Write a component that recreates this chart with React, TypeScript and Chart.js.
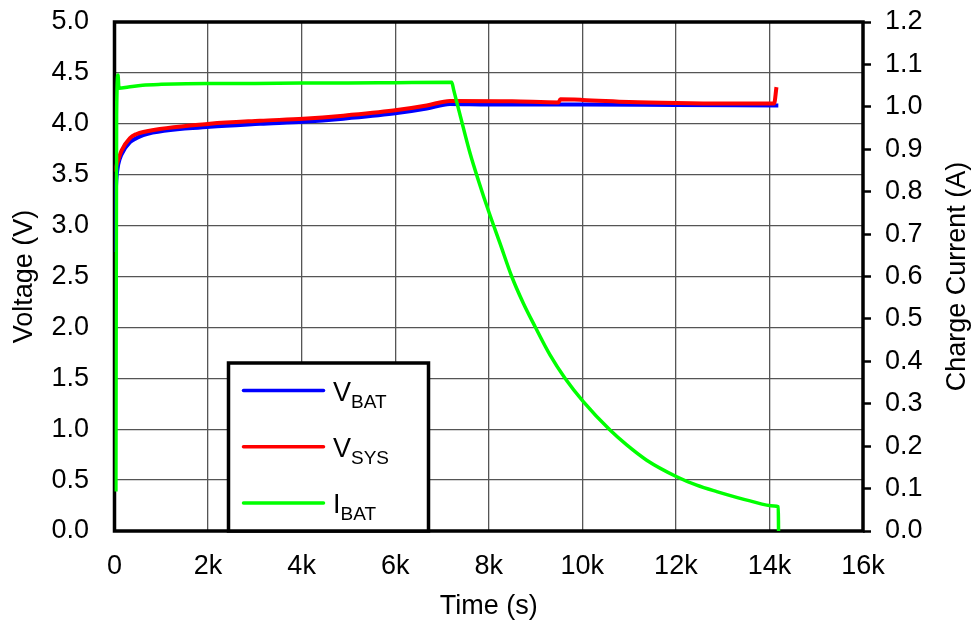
import React, { useEffect, useRef } from 'react';
import { Chart, registerables } from 'chart.js';

Chart.register(...registerables);

// ---- Data ----
const vbatTime = [0, 20, 40, 80, 150, 331, 474, 616, 2041, 3110, 4036, 4891, 5960, 6674, 7172, 8000, 10000, 12000, 14190];
const vbatVolts = [2.74, 3.25, 3.45, 3.6, 3.7, 3.82, 3.86, 3.89, 3.97, 4.0, 4.02, 4.05, 4.1, 4.15, 4.195, 4.19, 4.19, 4.185, 4.18];

const vsysTime = [0, 47, 154, 331, 474, 616, 2041, 3110, 4036, 4891, 5960, 6674, 7172, 8500, 9490, 9530, 10000, 11000, 12000, 13000, 14100, 14150];
const vsysVolts = [3.53, 3.6, 3.74, 3.86, 3.9, 3.92, 4.0, 4.03, 4.05, 4.08, 4.13, 4.18, 4.225, 4.222, 4.21, 4.24, 4.235, 4.215, 4.205, 4.2, 4.2, 4.36];

const ibatTime = [30, 45, 75, 95, 300, 600, 1000, 2000, 3000, 4000, 5000, 6000, 7208, 7250, 7400, 7599, 7777, 8012, 8241, 8491, 8739, 8989, 9309, 9630, 10021, 10592, 10949, 11376, 12018, 12445, 12873, 13585, 14100, 14189, 14195];
const ibatAmps = [0.093, 0.98, 1.075, 1.044, 1.047, 1.051, 1.053, 1.055, 1.055, 1.056, 1.056, 1.057, 1.058, 1.04, 0.975, 0.891, 0.827, 0.749, 0.678, 0.6, 0.537, 0.482, 0.415, 0.36, 0.305, 0.238, 0.203, 0.167, 0.128, 0.108, 0.093, 0.071, 0.059, 0.057, 0.0];

const xTickLabels = ['0', '2k', '4k', '6k', '8k', '10k', '12k', '14k', '16k'];
const voltTickLabels = ['0.0', '0.5', '1.0', '1.5', '2.0', '2.5', '3.0', '3.5', '4.0', '4.5', '5.0'];
const currentTickLabels = ['0.0', '0.1', '0.2', '0.3', '0.4', '0.5', '0.6', '0.7', '0.8', '0.9', '1.0', '1.1', '1.2'];

const legendMain = ['V', 'V', 'I'];
const legendSub = ['BAT', 'SYS', 'BAT'];
const legendColors = ['#0000ff', '#ff0000', '#00ff00'];

const xTitle = 'Time (s)';
const yTitle = 'Voltage (V)';
const y1Title = 'Charge Current (A)';

const FONT = "'Liberation Sans', Arial, sans-serif";
const FS = 27;

function zip(xs: number[], ys: number[]) {
  return xs.map((x, i) => ({ x, y: ys[i] }));
}

const framePlugin = {
  id: 'frame',
  beforeDatasetsDraw(chart: any) {
    const { ctx, chartArea: a } = chart;
    ctx.save();
    ctx.strokeStyle = '#000';
    ctx.lineWidth = 3.5;
    ctx.strokeRect(a.left, a.top, a.right - a.left, a.bottom - a.top);
    ctx.restore();
  },
  afterDraw(chart: any) {
    const { ctx, chartArea: a } = chart;
    ctx.save();
    ctx.font = `${FS}px ${FONT}`;
    ctx.fillStyle = '#000';
    ctx.textAlign = 'center';
    ctx.textBaseline = 'middle';
    ctx.translate(957.5, (a.top + a.bottom) / 2);
    ctx.rotate(-Math.PI / 2);
    ctx.fillText(y1Title, 0, 0);
    ctx.restore();

    ctx.save();
    const bl = a.left + 114;
    const br = a.left + 314;
    const bt = a.bottom - 168;
    const bb = a.bottom;
    ctx.fillStyle = '#fff';
    ctx.fillRect(bl, bt, br - bl, bb - bt);
    ctx.strokeStyle = '#000';
    ctx.lineWidth = 3.5;
    ctx.strokeRect(bl, bt, br - bl, bb - bt);
    for (let i = 0; i < legendMain.length; i++) {
      const ly = bt + 27.5 + i * 56.3;
      ctx.strokeStyle = legendColors[i];
      ctx.lineWidth = 3.5;
      ctx.lineCap = 'round';
      ctx.beginPath();
      ctx.moveTo(bl + 15, ly);
      ctx.lineTo(bl + 95, ly);
      ctx.stroke();
      ctx.fillStyle = '#000';
      ctx.textAlign = 'left';
      ctx.textBaseline = 'alphabetic';
      ctx.font = `${FS}px ${FONT}`;
      const tx = bl + 104.5;
      ctx.fillText(legendMain[i], tx, ly + 10);
      const w = ctx.measureText(legendMain[i]).width;
      ctx.font = `19px ${FONT}`;
      ctx.fillText(legendSub[i], tx + w, ly + 17.3);
    }
    ctx.restore();
  },
};

export default function App() {
  const ref = useRef<HTMLCanvasElement | null>(null);
  useEffect(() => {
    if (!ref.current) return;
    const gridColor = '#555555';
    const chart = new Chart(ref.current, {
      type: 'line',
      data: {
        datasets: [
          { label: 'IBAT', data: zip(ibatTime, ibatAmps), yAxisID: 'y1', borderColor: '#00ff00', backgroundColor: '#00ff00', borderWidth: 3.5, pointRadius: 0, cubicInterpolationMode: 'monotone' },
          { label: 'VSYS', data: zip(vsysTime, vsysVolts), yAxisID: 'y', borderColor: '#ff0000', backgroundColor: '#ff0000', borderWidth: 4, pointRadius: 0, cubicInterpolationMode: 'monotone' },
          { label: 'VBAT', data: zip(vbatTime, vbatVolts), yAxisID: 'y', borderColor: '#0000ff', backgroundColor: '#0000ff', borderWidth: 4, pointRadius: 0, cubicInterpolationMode: 'monotone' },
        ],
      },
      options: {
        animation: false,
        responsive: true,
        maintainAspectRatio: false,
        layout: { padding: { top: 22, left: 0, right: 0, bottom: 0 } },
        plugins: { legend: { display: false }, tooltip: { enabled: false } },
        scales: {
          x: {
            type: 'linear',
            min: 0,
            max: 16000,
            afterFit: (s: any) => { s.height = 91; s.paddingLeft = 0; s.paddingRight = 0; },
            ticks: {
              stepSize: 2000,
              color: '#000',
              padding: 19,
              maxRotation: 0,
              font: { family: FONT, size: FS },
              callback: (v: any) => xTickLabels[Math.round(Number(v) / 2000)],
            },
            grid: { color: gridColor, lineWidth: 1.3, drawTicks: false },
            border: { display: false },
            title: { display: true, text: xTitle, color: '#000', font: { family: FONT, size: FS }, padding: { top: 0, bottom: -1 } },
          },
          y: {
            position: 'left',
            min: 0,
            max: 5,
            afterFit: (s: any) => { s.width = 114.5; s.paddingTop = 0; s.paddingBottom = 0; },
            ticks: {
              stepSize: 0.5,
              color: '#000',
              padding: 25.5,
              font: { family: FONT, size: FS },
              callback: (v: any) => voltTickLabels[Math.round(Number(v) * 2)],
            },
            grid: { color: gridColor, lineWidth: 1.3, drawTicks: false },
            border: { display: false },
            title: { display: true, text: yTitle, color: '#000', font: { family: FONT, size: FS }, padding: { top: 8, bottom: 0 } },
          },
          y1: {
            position: 'right',
            min: 0,
            max: 1.2,
            afterFit: (s: any) => { s.width = 110; s.paddingTop = 0; s.paddingBottom = 0; },
            ticks: {
              stepSize: 0.1,
              color: '#000',
              padding: 14,
              font: { family: FONT, size: FS },
              callback: (v: any) => currentTickLabels[Math.round(Number(v) * 10)],
            },
            grid: { drawOnChartArea: false, drawTicks: true, tickLength: 8, tickColor: '#000', tickWidth: 2.5 },
            border: { display: false },
            title: { display: false },
          },
        },
      },
      plugins: [framePlugin],
    } as any);
    return () => chart.destroy();
  }, []);
  return (
    <div style={{ position: 'fixed', left: 0, top: 0, width: 973, height: 622, background: '#fff' }}>
      <canvas ref={ref} />
    </div>
  );
}
